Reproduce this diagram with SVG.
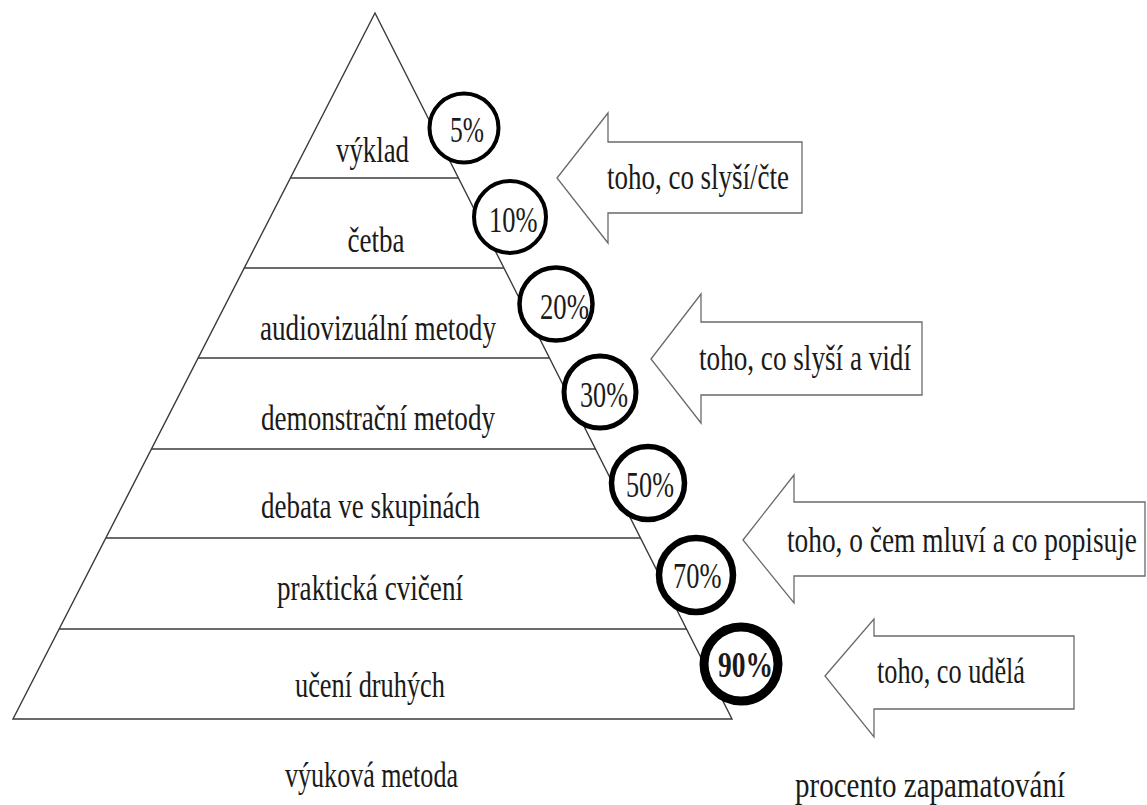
<svg xmlns="http://www.w3.org/2000/svg" width="1147" height="805" viewBox="0 0 1147 805">
<style>
.bg{fill:#ffffff}
.pyr{fill:#ffffff;stroke:#3a3a3a;stroke-width:1.4}
.sep{stroke:#3a3a3a;stroke-width:1.6;fill:none}
.arr{fill:#ffffff;stroke:#6a6a6a;stroke-width:1.3;stroke-linejoin:miter}
.ring{fill:#ffffff;stroke:#000000}
text{font-family:"Liberation Serif","Times New Roman",serif;font-size:35px;fill:#1a1a1a}
.bold{font-weight:bold}
</style>
<rect class="bg" x="0" y="0" width="1147" height="805"/>
<g id="pyramid">
  <polygon class="pyr" points="375,13 732,719 13,719"/>
  <line class="sep" x1="290" y1="178" x2="458.5" y2="178"/>
  <line class="sep" x1="244" y1="268" x2="504" y2="268"/>
  <line class="sep" x1="198" y1="358" x2="550" y2="358"/>
  <line class="sep" x1="151" y1="449" x2="596" y2="449"/>
  <line class="sep" x1="106" y1="538" x2="641" y2="538"/>
  <line class="sep" x1="59" y1="629" x2="687" y2="629"/>
</g>
<g id="level-labels">
  <text id="lbl-vyklad" transform="translate(336,162) scale(0.8,1)" textLength="91.25" lengthAdjust="spacingAndGlyphs">výklad</text>
  <text id="lbl-cetba" transform="translate(347.5,252) scale(0.8,1)" textLength="71.25" lengthAdjust="spacingAndGlyphs">četba</text>
  <text id="lbl-audio" transform="translate(260,340) scale(0.8,1)" textLength="295" lengthAdjust="spacingAndGlyphs">audiovizuální metody</text>
  <text id="lbl-demo" transform="translate(261,430) scale(0.8,1)" textLength="292.5" lengthAdjust="spacingAndGlyphs">demonstrační metody</text>
  <text id="lbl-debata" transform="translate(261,518) scale(0.8,1)" textLength="273.75" lengthAdjust="spacingAndGlyphs">debata ve skupinách</text>
  <text id="lbl-prakt" transform="translate(277,600) scale(0.8,1)" textLength="232.5" lengthAdjust="spacingAndGlyphs">praktická cvičení</text>
  <text id="lbl-uceni" transform="translate(295,697) scale(0.8,1)" textLength="187.5" lengthAdjust="spacingAndGlyphs">učení druhých</text>
  <text id="lbl-metoda" transform="translate(285,787) scale(0.8,1)" textLength="216.25" lengthAdjust="spacingAndGlyphs">výuková metoda</text>
</g>
<g id="connectors"></g>
<g id="arrow-1">
  <polygon class="arr" points="557,178 608,113 608,142 802,142 802,213 608,213 608,243"/>
  <text transform="translate(607,189) scale(0.8,1)" textLength="227.5" lengthAdjust="spacingAndGlyphs">toho, co slyší/čte</text>
</g>
<g id="arrow-2">
  <polygon class="arr" points="651,359 701,294 701,322 922,322 922,395 701,395 701,423"/>
  <text transform="translate(699,370) scale(0.8,1)" textLength="265" lengthAdjust="spacingAndGlyphs">toho, co slyší a vidí</text>
</g>
<g id="arrow-3">
  <polygon class="arr" points="743,540 794,475 794,502 1145,502 1145,576 794,576 794,603"/>
  <text transform="translate(787,552) scale(0.8,1)" textLength="437.5" lengthAdjust="spacingAndGlyphs">toho, o čem mluví a co popisuje</text>
</g>
<g id="arrow-4">
  <polygon class="arr" points="825,676 874,619 874,636 1074,636 1074,709 874,709 874,737"/>
  <text transform="translate(877,683) scale(0.8,1)" textLength="185" lengthAdjust="spacingAndGlyphs">toho, co udělá</text>
</g>
<g id="circle-5">
  <circle class="ring" cx="464" cy="128" r="34.5" stroke-width="4"/>
  <text transform="translate(450,142) scale(0.8,1)" textLength="42.5" lengthAdjust="spacingAndGlyphs">5%</text>
</g>
<g id="circle-10">
  <circle class="ring" cx="510" cy="217" r="36" stroke-width="4"/>
  <text transform="translate(489,231.5) scale(0.8,1)" textLength="60.6" lengthAdjust="spacingAndGlyphs">10%</text>
</g>
<g id="circle-20">
  <circle class="ring" cx="556" cy="304" r="36.5" stroke-width="4.5"/>
  <text transform="translate(540,319) scale(0.8,1)" textLength="61.25" lengthAdjust="spacingAndGlyphs">20%</text>
</g>
<g id="circle-30">
  <circle class="ring" cx="600" cy="392" r="36" stroke-width="5"/>
  <text transform="translate(580,406.5) scale(0.8,1)" textLength="60" lengthAdjust="spacingAndGlyphs">30%</text>
</g>
<g id="circle-50">
  <circle class="ring" cx="648" cy="483" r="36.5" stroke-width="5.5"/>
  <text transform="translate(626,496.5) scale(0.8,1)" textLength="60" lengthAdjust="spacingAndGlyphs">50%</text>
</g>
<g id="circle-70">
  <circle class="ring" cx="696" cy="575" r="37" stroke-width="6.5"/>
  <text transform="translate(673,588) scale(0.8,1)" textLength="60.6" lengthAdjust="spacingAndGlyphs">70%</text>
</g>
<g id="circle-90">
  <circle class="ring" cx="741" cy="664" r="37" stroke-width="9"/>
  <text class="bold" transform="translate(718,676.5) scale(0.8,1)" textLength="68.75" lengthAdjust="spacingAndGlyphs">90%</text>
</g>
<g id="legend">
  <text id="lbl-procento" transform="translate(795,797) scale(0.8,1)" textLength="337.5" lengthAdjust="spacingAndGlyphs">procento zapamatování</text>
</g>
</svg>
